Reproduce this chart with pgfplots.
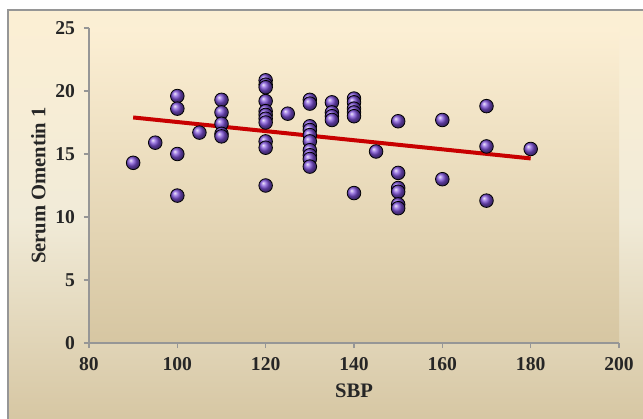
\documentclass[border=0pt]{standalone}
\usepackage{pgfplots}
\pgfplotsset{compat=1.18}
\usepackage{fontspec}
\setmainfont{Liberation Serif}
\usetikzlibrary{plotmarks}
\definecolor{axgray}{RGB}{150,150,150}
\definecolor{cream}{RGB}{252,239,212}
\definecolor{midcream}{RGB}{241,235,216}
\definecolor{tan}{RGB}{214,198,162}
\definecolor{balls}{RGB}{125,80,215}
\definecolor{regred}{RGB}{200,0,0}
\begin{document}
\begin{tikzpicture}
\path[use as bounding box] (-44.5pt,-37.5pt) rectangle (277pt,171.5pt);
\shade[top color=cream, bottom color=tan, middle color=midcream, draw=axgray, line width=0.6pt]
  (-40.5pt,-40pt) rectangle (280pt,166.5pt);
\shade[top color=cream, bottom color=tan, middle color=cream!50!tan] (0pt,0pt) rectangle (265pt,157.5pt);
\begin{axis}[
  at={(0,0)}, anchor=south west,
  scale only axis, width=265pt, height=157.5pt,
  xmin=80, xmax=200, ymin=0, ymax=25,
  xtick={80,100,...,200}, ytick={0,5,...,25},
  axis x line*=bottom, axis y line*=left,
  axis line style={axgray, line width=0.6pt},
  tick style={axgray, line width=0.6pt},
  tick align=outside, major tick length=2.5pt,
  /pgf/number format/assume math mode=true,
  ticklabel style={font=\bfseries\fontsize{9.8}{11}\selectfont, text=black!85},
  xticklabel style={yshift=-1pt},
  yticklabel style={xshift=-1pt},
  xlabel={SBP}, ylabel={Serum Omentin 1},
  label style={font=\bfseries\fontsize{10.3}{12}\selectfont, text=black!85},
  xlabel style={yshift=0pt},
  ylabel style={yshift=-2pt},
  clip=false,
]
\addplot[only marks, mark=ball, mark size=3.4pt, mark options={ball color=balls}] coordinates {
(90,14.3) (95,15.9)
(100,19.6) (100,18.6) (100,15.0) (100,11.7)
(105,16.7)
(110,19.3) (110,18.3) (110,17.4) (110,16.6) (110,16.4)
(120,20.85) (120,20.5) (120,20.3) (120,19.2) (120,18.4) (120,18.1) (120,17.8) (120,17.5) (120,16.0) (120,15.5) (120,12.5)
(125,18.2)
(130,19.3) (130,19.0) (130,17.2) (130,16.9) (130,16.5) (130,16.0) (130,15.3) (130,14.9) (130,14.6) (130,14.0)
(135,19.1) (135,18.3) (135,18.0) (135,17.7)
(140,19.4) (140,19.1) (140,18.6) (140,18.3) (140,18.0) (140,11.9)
(145,15.2)
(150,17.6) (150,13.5) (150,12.3) (150,12.0) (150,11.0) (150,10.7)
(160,17.7) (160,13.0)
(170,18.8) (170,15.6) (170,11.3)
(180,15.4)
};
\addplot[regred, line width=2pt] coordinates {(90,17.9) (180,14.65)};
\end{axis}
\end{tikzpicture}
\end{document}
